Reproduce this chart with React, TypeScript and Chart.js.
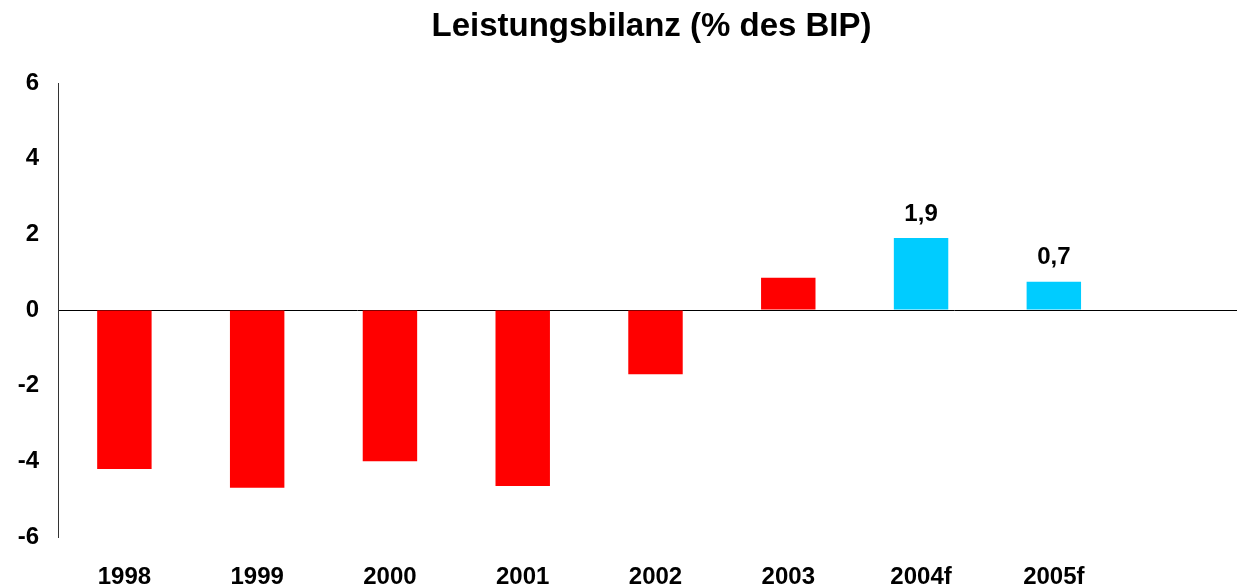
import React, { useEffect, useRef } from "react";
import { Chart, registerables } from "chart.js";

Chart.register(...registerables);

const chartTitle = "Leistungsbilanz (% des BIP)";
const categories = ["1998", "1999", "2000", "2001", "2002", "2003", "2004f", "2005f", ""];
const balanceValues = [-4.2, -4.7, -4.0, -4.65, -1.7, 0.85, 1.9, 0.75, null];
const valueLabels = ["", "", "", "", "", "", "1,9", "0,7", ""];
const yTicks = [-6, -4, -2, 0, 2, 4, 6];

const FONT = "'Liberation Sans', Arial, sans-serif";

const valueLabelPlugin = {
  id: "valueLabels",
  afterDatasetsDraw(chart: any) {
    const meta = chart.getDatasetMeta(0);
    const ctx = chart.ctx;
    ctx.save();
    ctx.font = `bold 24px ${FONT}`;
    ctx.fillStyle = "#000";
    ctx.textAlign = "center";
    ctx.textBaseline = "middle";
    meta.data.forEach((el: any, i: number) => {
      const t = valueLabels[i];
      if (!t) return;
      ctx.fillText(t, el.x, el.y - 24);
    });
    ctx.restore();
  },
};

const titlePlugin = {
  id: "centeredTitle",
  afterDraw(chart: any) {
    const ctx = chart.ctx;
    const area = chart.chartArea;
    ctx.save();
    ctx.font = `bold 33px ${FONT}`;
    ctx.fillStyle = "#000";
    ctx.textAlign = "center";
    ctx.textBaseline = "middle";
    ctx.fillText(chartTitle, (area.left + area.right) / 2 - 4, area.top - 56);
    ctx.restore();
  },
};

export default function App() {
  const ref = useRef<HTMLCanvasElement | null>(null);
  useEffect(() => {
    if (!ref.current) return;
    const chart = new Chart(ref.current, {
      type: "bar",
      data: {
        labels: categories,
        datasets: [
          {
            data: balanceValues as any,
            backgroundColor: categories.map((c) => (c.endsWith("f") ? "#00CCFF" : "#FF0000")),
            borderWidth: 0,
            categoryPercentage: 1,
            barPercentage: 0.41,
          },
        ],
      },
      options: {
        animation: false,
        responsive: false,
        maintainAspectRatio: false,
        layout: { padding: { left: 0, right: 0, top: 83, bottom: 0 } },
        plugins: {
          legend: { display: false },
          tooltip: { enabled: false },
          title: { display: false },
        },
        scales: {
          x: {
            afterFit: (axis: any) => {
              axis.height = 50;
            },
            grid: { display: false, drawTicks: false },
            border: { display: false },
            ticks: {
              color: "#000",
              font: { family: FONT, size: 24, weight: "bold", lineHeight: 1 },
              padding: 28,
              maxRotation: 0,
              autoSkip: false,
            },
          },
          y: {
            min: -6,
            max: 6,
            afterBuildTicks: (axis: any) => {
              axis.ticks = yTicks.map((v) => ({ value: v }));
            },
            afterFit: (axis: any) => {
              axis.width = 58;
            },
            grid: {
              drawTicks: false,
              color: (c: any) => (c.tick && c.tick.value === 0 ? "#000" : "rgba(0,0,0,0)"),
              lineWidth: 1,
            },
            border: { display: true, color: "#333", width: 1 },
            ticks: {
              color: "#000",
              font: { family: FONT, size: 24, weight: "bold", lineHeight: 1 },
              padding: 19,
            },
          },
        },
      },
      plugins: [valueLabelPlugin, titlePlugin],
    });
    return () => chart.destroy();
  }, []);
  return (
    <div style={{ position: "fixed", left: 0, top: 0, width: 1237, height: 587, overflow: "hidden", background: "#fff" }}>
      <canvas ref={ref} width={1253} height={587} style={{ width: 1253, height: 587, display: "block" }} />
    </div>
  );
}
